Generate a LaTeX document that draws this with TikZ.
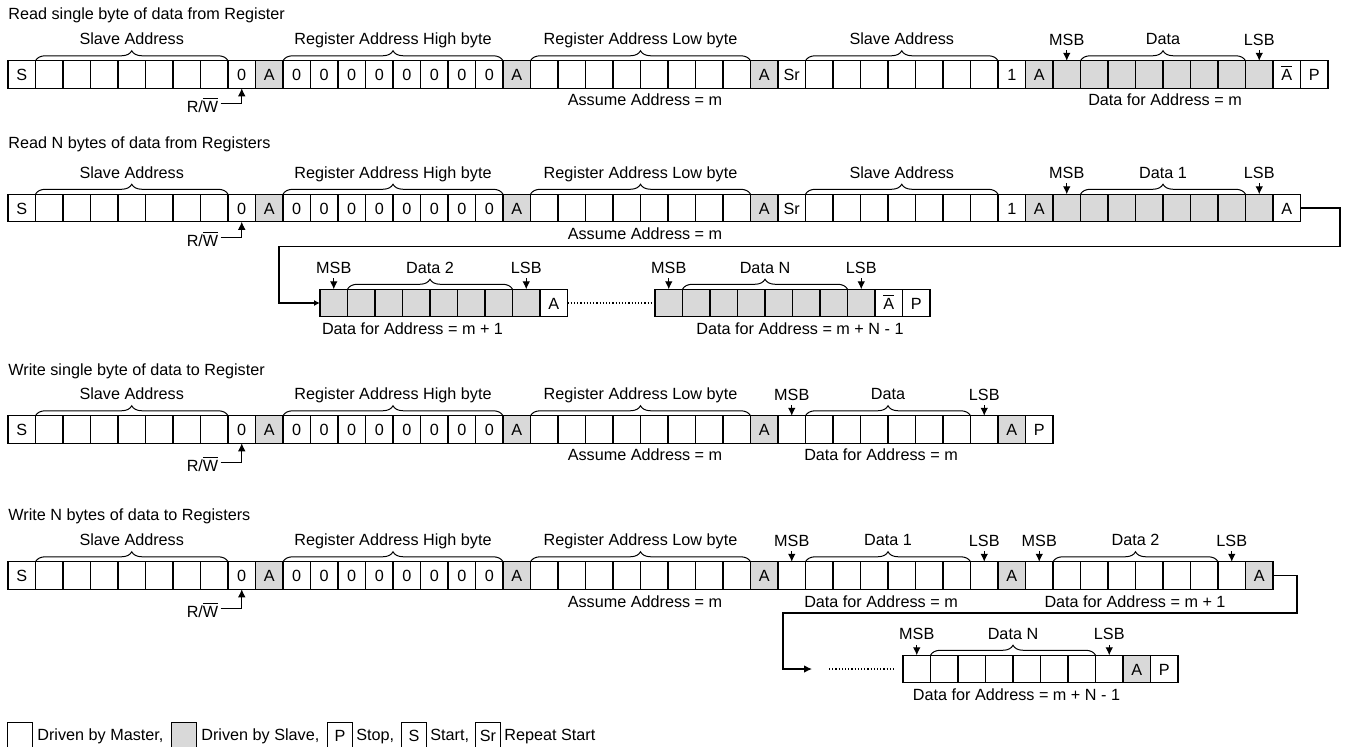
\documentclass[tikz,border=0pt]{standalone}
\usepackage{fontspec}
\setmainfont{Liberation Sans}
\usetikzlibrary{decorations.pathreplacing,arrows.meta}
\definecolor{slavefill}{RGB}{217,217,217}
\newcommand{\nack}{$\overline{\hbox{A}}$}
\newcommand{\rwbar}{R/$\overline{\hbox{W}}$}
\tikzset{
  bit/.style={draw, line width=0.6pt, minimum width=13.75pt, minimum height=13.75pt,
    inner sep=0pt, outer sep=0pt, text height=6pt, text depth=0pt},
  lbl/.style={inner sep=1pt, text height=6pt, text depth=1.5pt},
  title/.style={lbl, anchor=west, inner sep=0pt},
  bytebrace/.style={decorate, decoration={brace, amplitude=5pt}, line width=0.5pt},
  bitarrow/.style={-{Latex[length=4pt, width=3.8pt]}, line width=0.5pt},
  hop/.style={line width=0.6pt},
  gap/.style={densely dotted, line width=0.6pt},
  legbox/.style={draw, line width=0.6pt, minimum width=12.5pt, minimum height=13pt,
    inner sep=0pt, outer sep=0pt, text height=6pt, text depth=0pt}
}
\begin{document}
\begin{tikzpicture}[x=0.5pt, y=-0.5pt, font=\fontsize{8.1}{9.7}\selectfont]
  \useasboundingbox (0,0) rectangle (1349,746);
  % headings
  \node[title] (rsHead) at (8,15) {Read single byte of data from Register};
  \node[title] (rnHead) at (8,144) {Read N bytes of data from Registers};
  \node[title] (wsHead) at (8,371) {Write single byte of data to Register};
  \node[title] (wnHead) at (8,516) {Write N bytes of data to Registers};
  \begin{scope}[every node/.style={bit}]
    % read single byte
    \draw
      (21.75,74.5) node (rs0){S}
      (49.25,74.5) node (rs1){}
      (76.75,74.5) node (rs2){}
      (104.25,74.5) node (rs3){}
      (131.75,74.5) node (rs4){}
      (159.25,74.5) node (rs5){}
      (186.75,74.5) node (rs6){}
      (214.25,74.5) node (rs7){}
      (241.75,74.5) node (rs8){0}
      (269.25,74.5) node[fill=slavefill] (rs9){A}
      (296.75,74.5) node (rs10){0}
      (324.25,74.5) node (rs11){0}
      (351.75,74.5) node (rs12){0}
      (379.25,74.5) node (rs13){0}
      (406.75,74.5) node (rs14){0}
      (434.25,74.5) node (rs15){0}
      (461.75,74.5) node (rs16){0}
      (489.25,74.5) node (rs17){0}
      (516.75,74.5) node[fill=slavefill] (rs18){A}
      (544.25,74.5) node (rs19){}
      (571.75,74.5) node (rs20){}
      (599.25,74.5) node (rs21){}
      (626.75,74.5) node (rs22){}
      (654.25,74.5) node (rs23){}
      (681.75,74.5) node (rs24){}
      (709.25,74.5) node (rs25){}
      (736.75,74.5) node (rs26){}
      (764.25,74.5) node[fill=slavefill] (rs27){A}
      (791.75,74.5) node (rs28){Sr}
      (819.25,74.5) node (rs29){}
      (846.75,74.5) node (rs30){}
      (874.25,74.5) node (rs31){}
      (901.75,74.5) node (rs32){}
      (929.25,74.5) node (rs33){}
      (956.75,74.5) node (rs34){}
      (984.25,74.5) node (rs35){}
      (1011.75,74.5) node (rs36){1}
      (1039.25,74.5) node[fill=slavefill] (rs37){A}
      (1066.75,74.5) node[fill=slavefill] (rs38){}
      (1094.25,74.5) node[fill=slavefill] (rs39){}
      (1121.75,74.5) node[fill=slavefill] (rs40){}
      (1149.25,74.5) node[fill=slavefill] (rs41){}
      (1176.75,74.5) node[fill=slavefill] (rs42){}
      (1204.25,74.5) node[fill=slavefill] (rs43){}
      (1231.75,74.5) node[fill=slavefill] (rs44){}
      (1259.25,74.5) node[fill=slavefill] (rs45){}
      (1286.75,74.5) node (rs46){\nack}
      (1314.25,74.5) node (rs47){P};
    % read N bytes
    \draw
      (21.75,208) node (rn0){S}
      (49.25,208) node (rn1){}
      (76.75,208) node (rn2){}
      (104.25,208) node (rn3){}
      (131.75,208) node (rn4){}
      (159.25,208) node (rn5){}
      (186.75,208) node (rn6){}
      (214.25,208) node (rn7){}
      (241.75,208) node (rn8){0}
      (269.25,208) node[fill=slavefill] (rn9){A}
      (296.75,208) node (rn10){0}
      (324.25,208) node (rn11){0}
      (351.75,208) node (rn12){0}
      (379.25,208) node (rn13){0}
      (406.75,208) node (rn14){0}
      (434.25,208) node (rn15){0}
      (461.75,208) node (rn16){0}
      (489.25,208) node (rn17){0}
      (516.75,208) node[fill=slavefill] (rn18){A}
      (544.25,208) node (rn19){}
      (571.75,208) node (rn20){}
      (599.25,208) node (rn21){}
      (626.75,208) node (rn22){}
      (654.25,208) node (rn23){}
      (681.75,208) node (rn24){}
      (709.25,208) node (rn25){}
      (736.75,208) node (rn26){}
      (764.25,208) node[fill=slavefill] (rn27){A}
      (791.75,208) node (rn28){Sr}
      (819.25,208) node (rn29){}
      (846.75,208) node (rn30){}
      (874.25,208) node (rn31){}
      (901.75,208) node (rn32){}
      (929.25,208) node (rn33){}
      (956.75,208) node (rn34){}
      (984.25,208) node (rn35){}
      (1011.75,208) node (rn36){1}
      (1039.25,208) node[fill=slavefill] (rn37){A}
      (1066.75,208) node[fill=slavefill] (rn38){}
      (1094.25,208) node[fill=slavefill] (rn39){}
      (1121.75,208) node[fill=slavefill] (rn40){}
      (1149.25,208) node[fill=slavefill] (rn41){}
      (1176.75,208) node[fill=slavefill] (rn42){}
      (1204.25,208) node[fill=slavefill] (rn43){}
      (1231.75,208) node[fill=slavefill] (rn44){}
      (1259.25,208) node[fill=slavefill] (rn45){}
      (1286.75,208) node (rn46){A};
    \draw
      (333.75,303) node[fill=slavefill] (rm0){}
      (361.25,303) node[fill=slavefill] (rm1){}
      (388.75,303) node[fill=slavefill] (rm2){}
      (416.25,303) node[fill=slavefill] (rm3){}
      (443.75,303) node[fill=slavefill] (rm4){}
      (471.25,303) node[fill=slavefill] (rm5){}
      (498.75,303) node[fill=slavefill] (rm6){}
      (526.25,303) node[fill=slavefill] (rm7){}
      (553.75,303) node (rm8){A};
    \draw
      (668.75,303) node[fill=slavefill] (rz0){}
      (696.25,303) node[fill=slavefill] (rz1){}
      (723.75,303) node[fill=slavefill] (rz2){}
      (751.25,303) node[fill=slavefill] (rz3){}
      (778.75,303) node[fill=slavefill] (rz4){}
      (806.25,303) node[fill=slavefill] (rz5){}
      (833.75,303) node[fill=slavefill] (rz6){}
      (861.25,303) node[fill=slavefill] (rz7){}
      (888.75,303) node (rz8){\nack}
      (916.25,303) node (rz9){P};
    % write single byte
    \draw
      (21.75,429.5) node (ws0){S}
      (49.25,429.5) node (ws1){}
      (76.75,429.5) node (ws2){}
      (104.25,429.5) node (ws3){}
      (131.75,429.5) node (ws4){}
      (159.25,429.5) node (ws5){}
      (186.75,429.5) node (ws6){}
      (214.25,429.5) node (ws7){}
      (241.75,429.5) node (ws8){0}
      (269.25,429.5) node[fill=slavefill] (ws9){A}
      (296.75,429.5) node (ws10){0}
      (324.25,429.5) node (ws11){0}
      (351.75,429.5) node (ws12){0}
      (379.25,429.5) node (ws13){0}
      (406.75,429.5) node (ws14){0}
      (434.25,429.5) node (ws15){0}
      (461.75,429.5) node (ws16){0}
      (489.25,429.5) node (ws17){0}
      (516.75,429.5) node[fill=slavefill] (ws18){A}
      (544.25,429.5) node (ws19){}
      (571.75,429.5) node (ws20){}
      (599.25,429.5) node (ws21){}
      (626.75,429.5) node (ws22){}
      (654.25,429.5) node (ws23){}
      (681.75,429.5) node (ws24){}
      (709.25,429.5) node (ws25){}
      (736.75,429.5) node (ws26){}
      (764.25,429.5) node[fill=slavefill] (ws27){A}
      (791.75,429.5) node (ws28){}
      (819.25,429.5) node (ws29){}
      (846.75,429.5) node (ws30){}
      (874.25,429.5) node (ws31){}
      (901.75,429.5) node (ws32){}
      (929.25,429.5) node (ws33){}
      (956.75,429.5) node (ws34){}
      (984.25,429.5) node (ws35){}
      (1011.75,429.5) node[fill=slavefill] (ws36){A}
      (1039.25,429.5) node (ws37){P};
    % write N bytes
    \draw
      (21.75,575.5) node (wn0){S}
      (49.25,575.5) node (wn1){}
      (76.75,575.5) node (wn2){}
      (104.25,575.5) node (wn3){}
      (131.75,575.5) node (wn4){}
      (159.25,575.5) node (wn5){}
      (186.75,575.5) node (wn6){}
      (214.25,575.5) node (wn7){}
      (241.75,575.5) node (wn8){0}
      (269.25,575.5) node[fill=slavefill] (wn9){A}
      (296.75,575.5) node (wn10){0}
      (324.25,575.5) node (wn11){0}
      (351.75,575.5) node (wn12){0}
      (379.25,575.5) node (wn13){0}
      (406.75,575.5) node (wn14){0}
      (434.25,575.5) node (wn15){0}
      (461.75,575.5) node (wn16){0}
      (489.25,575.5) node (wn17){0}
      (516.75,575.5) node[fill=slavefill] (wn18){A}
      (544.25,575.5) node (wn19){}
      (571.75,575.5) node (wn20){}
      (599.25,575.5) node (wn21){}
      (626.75,575.5) node (wn22){}
      (654.25,575.5) node (wn23){}
      (681.75,575.5) node (wn24){}
      (709.25,575.5) node (wn25){}
      (736.75,575.5) node (wn26){}
      (764.25,575.5) node[fill=slavefill] (wn27){A}
      (791.75,575.5) node (wn28){}
      (819.25,575.5) node (wn29){}
      (846.75,575.5) node (wn30){}
      (874.25,575.5) node (wn31){}
      (901.75,575.5) node (wn32){}
      (929.25,575.5) node (wn33){}
      (956.75,575.5) node (wn34){}
      (984.25,575.5) node (wn35){}
      (1011.75,575.5) node[fill=slavefill] (wn36){A}
      (1039.25,575.5) node (wn37){}
      (1066.75,575.5) node (wn38){}
      (1094.25,575.5) node (wn39){}
      (1121.75,575.5) node (wn40){}
      (1149.25,575.5) node (wn41){}
      (1176.75,575.5) node (wn42){}
      (1204.25,575.5) node (wn43){}
      (1231.75,575.5) node (wn44){}
      (1259.25,575.5) node[fill=slavefill] (wn45){A};
    \draw
      (916.75,669) node (wz0){}
      (944.25,669) node (wz1){}
      (971.75,669) node (wz2){}
      (999.25,669) node (wz3){}
      (1026.75,669) node (wz4){}
      (1054.25,669) node (wz5){}
      (1081.75,669) node (wz6){}
      (1109.25,669) node (wz7){}
      (1136.75,669) node[fill=slavefill] (wz8){A}
      (1164.25,669) node (wz9){P};
  \end{scope}
  % braces
  \draw[bytebrace] (rs1.north west) -- (rs7.north east) node[lbl, midway, yshift=10.25pt] (rsB1){Slave Address};
  \draw[bytebrace] (rs10.north west) -- (rs17.north east) node[lbl, midway, yshift=10.25pt] (rsB2){Register Address High byte};
  \draw[bytebrace] (rs19.north west) -- (rs26.north east) node[lbl, midway, yshift=10.25pt] (rsB3){Register Address Low byte};
  \draw[bytebrace] (rs29.north west) -- (rs35.north east) node[lbl, midway, yshift=10.25pt] (rsB4){Slave Address};
  \draw[bytebrace] (rs39.north west) -- (rs44.north east) node[lbl, midway, yshift=10.25pt] (rsB5){Data};
  \draw[bytebrace] (rn1.north west) -- (rn7.north east) node[lbl, midway, yshift=10.25pt] (rnB1){Slave Address};
  \draw[bytebrace] (rn10.north west) -- (rn17.north east) node[lbl, midway, yshift=10.25pt] (rnB2){Register Address High byte};
  \draw[bytebrace] (rn19.north west) -- (rn26.north east) node[lbl, midway, yshift=10.25pt] (rnB3){Register Address Low byte};
  \draw[bytebrace] (rn29.north west) -- (rn35.north east) node[lbl, midway, yshift=10.25pt] (rnB4){Slave Address};
  \draw[bytebrace] (rn39.north west) -- (rn44.north east) node[lbl, midway, yshift=10.25pt] (rnB5){Data 1};
  \draw[bytebrace] (rm1.north west) -- (rm6.north east) node[lbl, midway, yshift=10.25pt] (rmB1){Data 2};
  \draw[bytebrace] (rz1.north west) -- (rz6.north east) node[lbl, midway, yshift=10.25pt] (rzB1){Data N};
  \draw[bytebrace] (ws1.north west) -- (ws7.north east) node[lbl, midway, yshift=10.25pt] (wsB1){Slave Address};
  \draw[bytebrace] (ws10.north west) -- (ws17.north east) node[lbl, midway, yshift=10.25pt] (wsB2){Register Address High byte};
  \draw[bytebrace] (ws19.north west) -- (ws26.north east) node[lbl, midway, yshift=10.25pt] (wsB3){Register Address Low byte};
  \draw[bytebrace] (ws29.north west) -- (ws34.north east) node[lbl, midway, yshift=10.25pt] (wsB4){Data};
  \draw[bytebrace] (wn1.north west) -- (wn7.north east) node[lbl, midway, yshift=10.25pt] (wnB1){Slave Address};
  \draw[bytebrace] (wn10.north west) -- (wn17.north east) node[lbl, midway, yshift=10.25pt] (wnB2){Register Address High byte};
  \draw[bytebrace] (wn19.north west) -- (wn26.north east) node[lbl, midway, yshift=10.25pt] (wnB3){Register Address Low byte};
  \draw[bytebrace] (wn29.north west) -- (wn34.north east) node[lbl, midway, yshift=10.25pt] (wnB4){Data 1};
  \draw[bytebrace] (wn38.north west) -- (wn43.north east) node[lbl, midway, yshift=10.25pt] (wnB5){Data 2};
  \draw[bytebrace] (wz1.north west) -- (wz6.north east) node[lbl, midway, yshift=10.25pt] (wzB1){Data N};
  % MSB / LSB markers
  \node[lbl] (rsMSB) at (1066.75,40.5) {MSB};
  \node[lbl] (rsLSB) at (1259.25,40.5) {LSB};
  \node[lbl] (rnMSB) at (1066.75,173.5) {MSB};
  \node[lbl] (rnLSB) at (1259.25,173.5) {LSB};
  \node[lbl] (rmMSB) at (333.75,268.5) {MSB};
  \node[lbl] (rmLSB) at (526.25,268.5) {LSB};
  \node[lbl] (rzMSB) at (668.75,268.5) {MSB};
  \node[lbl] (rzLSB) at (861.25,268.5) {LSB};
  \node[lbl] (wsMSB) at (791.75,395.5) {MSB};
  \node[lbl] (wsLSB) at (984.25,395.5) {LSB};
  \node[lbl] (wnMSB1) at (791.75,541.5) {MSB};
  \node[lbl] (wnLSB1) at (984.25,541.5) {LSB};
  \node[lbl] (wnMSB2) at (1039.25,541.5) {MSB};
  \node[lbl] (wnLSB2) at (1231.75,541.5) {LSB};
  \node[lbl] (wzMSB) at (916.75,635) {MSB};
  \node[lbl] (wzLSB) at (1109.25,635) {LSB};
  \begin{scope}[bitarrow]
    \draw (rsMSB) to (rs38);
    \draw (rsLSB) to (rs45);
    \draw (rnMSB) to (rn38);
    \draw (rnLSB) to (rn45);
    \draw (rmMSB) to (rm0);
    \draw (rmLSB) to (rm7);
    \draw (rzMSB) to (rz0);
    \draw (rzLSB) to (rz7);
    \draw (wsMSB) to (ws28);
    \draw (wsLSB) to (ws35);
    \draw (wnMSB1) to (wn28);
    \draw (wnLSB1) to (wn35);
    \draw (wnMSB2) to (wn37);
    \draw (wnLSB2) to (wn44);
    \draw (wzMSB) to (wz0);
    \draw (wzLSB) to (wz7);
  \end{scope}
  % R/W bit
  \node[lbl] (rsRW) at (202.5,108) {\rwbar};
  \node[lbl] (rnRW) at (202.5,242) {\rwbar};
  \node[lbl] (wsRW) at (202.5,467) {\rwbar};
  \node[lbl] (wnRW) at (202.5,613) {\rwbar};
  \begin{scope}[bitarrow]
    \draw ([yshift=2.5pt]rsRW.east) -| (rs8.south);
    \draw ([yshift=2.5pt]rnRW.east) -| (rn8.south);
    \draw ([yshift=2.5pt]wsRW.east) -| (ws8.south);
    \draw ([yshift=2.5pt]wnRW.east) -| (wn8.south);
  \end{scope}
  % address notes
  \node[lbl] (rsNote1) at (645,101) {Assume Address = m};
  \node[lbl] (rsNote2) at (1165,101) {Data for Address = m};
  \node[lbl] (rnNote1) at (645,235) {Assume Address = m};
  \node[lbl] (rmNote1) at (412.5,330) {Data for Address = m + 1};
  \node[lbl] (rzNote1) at (800,330) {Data for Address = m + N - 1};
  \node[lbl] (wsNote1) at (645,456) {Assume Address = m};
  \node[lbl] (wsNote2) at (881,456) {Data for Address = m};
  \node[lbl] (wnNote1) at (645,602.5) {Assume Address = m};
  \node[lbl] (wnNote2) at (881,602.5) {Data for Address = m};
  \node[lbl] (wnNote3) at (1135,602.5) {Data for Address = m + 1};
  \node[lbl] (wzNote1) at (1016.5,696) {Data for Address = m + N - 1};
  % wrap-around lines
  \coordinate (rnBendR) at (1340,246.7);
  \coordinate (rnBendL) at (279,246.7);
  \coordinate (wnBendR) at (1297,613);
  \coordinate (wnBendL) at (783,613);
  \coordinate (wnEnd) at (812,669);
  \coordinate (wnDot) at (829,669);
  \draw[hop, -{Latex[length=3pt, width=3pt]}] (rn46.east) -| (rnBendR) -- (rnBendL) |- (rm0.west);
  \draw[gap] (rm8.east) -- (rz0.west);
  \draw[hop, -{Latex[length=4pt, width=3.8pt]}] (wn45.east) -| (wnBendR) -- (wnBendL) |- (wnEnd);
  \draw[gap, shorten >=4pt] (wnDot) -- (wz0.west);
  % legend
  \node[legbox] (lgMaster) at (19.8,735.5) {};
  \node[lbl, anchor=west] (lgMasterT) at (35,736) {Driven by Master,};
  \node[legbox, fill=slavefill] (lgSlave) at (184,735.5) {};
  \node[lbl, anchor=west] (lgSlaveT) at (199,736) {Driven by Slave,};
  \node[legbox] (lgStop) at (340,735.5) {P};
  \node[lbl, anchor=west] (lgStopT) at (354,736) {Stop,};
  \node[legbox] (lgStart) at (414,735.5) {S};
  \node[lbl, anchor=west] (lgStartT) at (428,736) {Start,};
  \node[legbox] (lgRep) at (488,735.5) {Sr};
  \node[lbl, anchor=west] (lgRepT) at (502,736) {Repeat Start};
\end{tikzpicture}
\end{document}
